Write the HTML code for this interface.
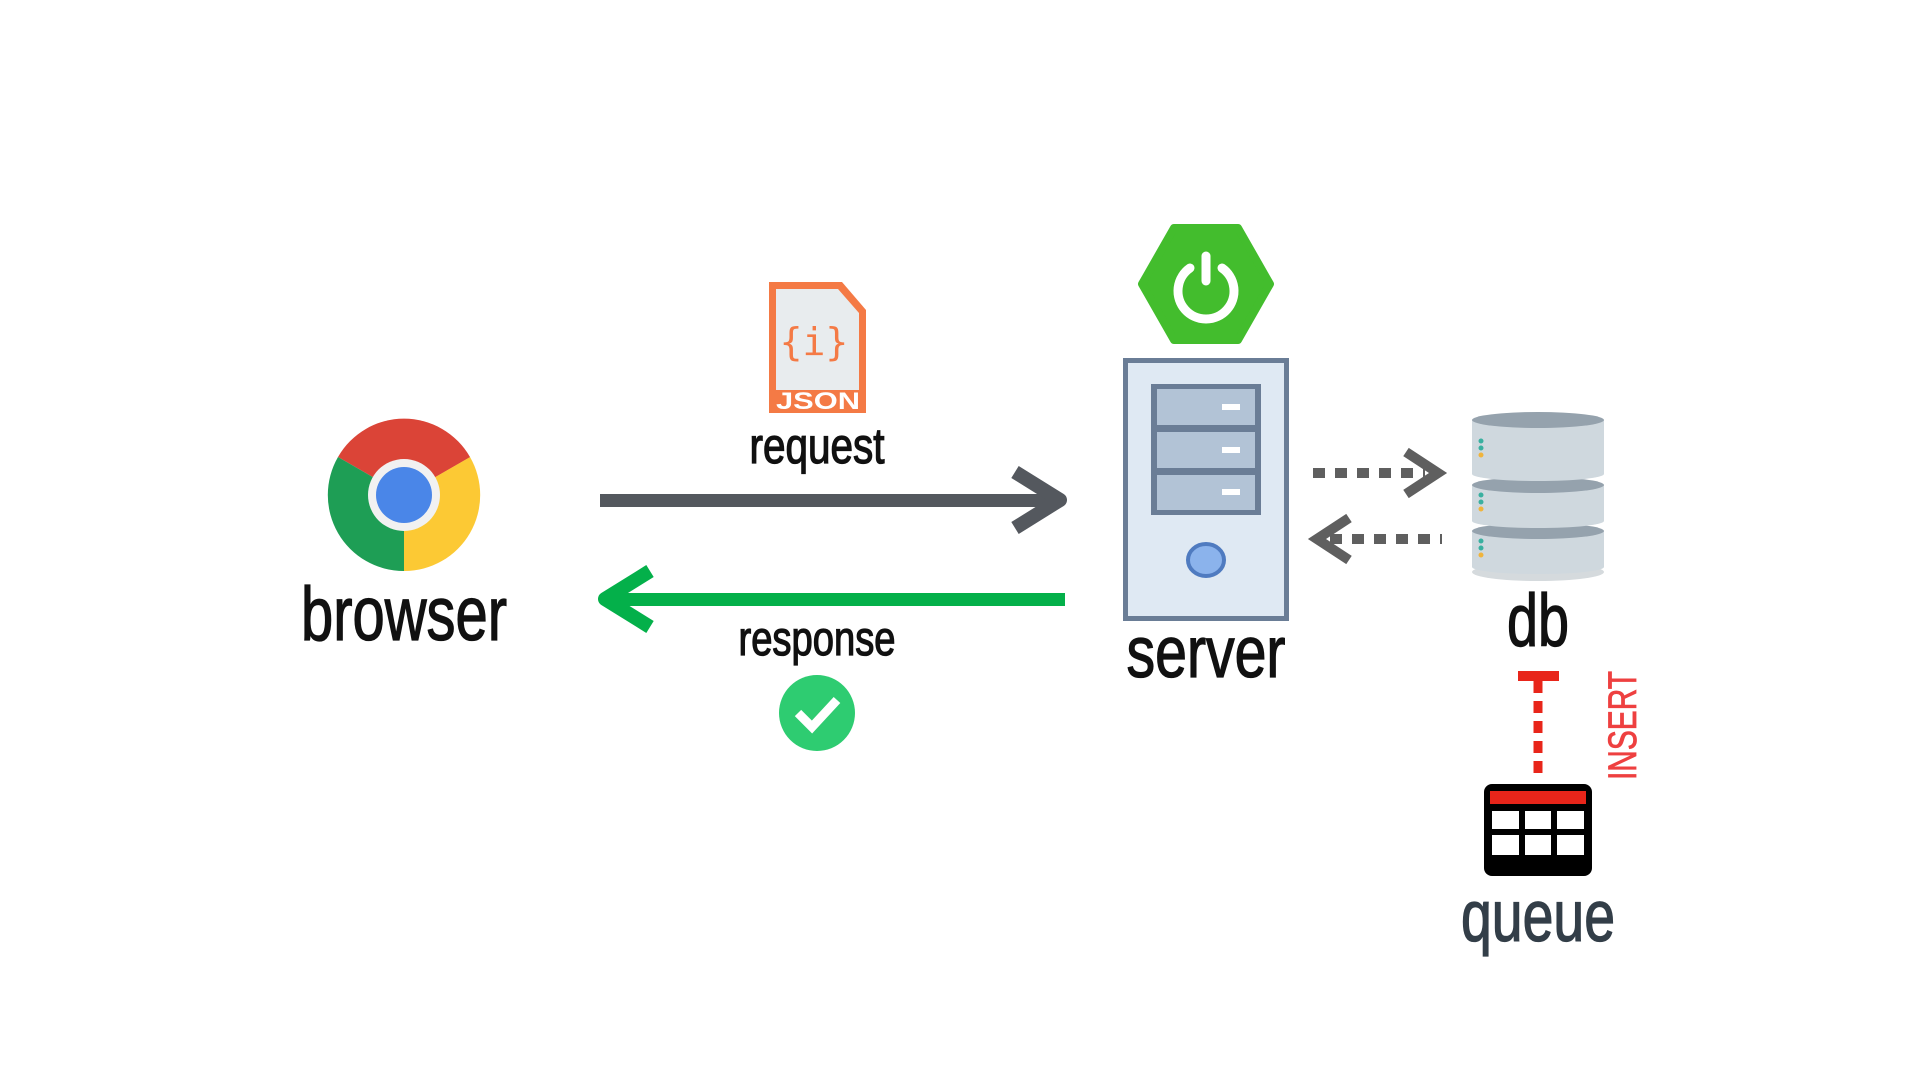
<!DOCTYPE html>
<html><head><meta charset="utf-8"><style>html,body{margin:0;padding:0;background:#fff}svg{display:block}</style></head>
<body>
<svg width="1920" height="1080" viewBox="0 0 1920 1080" xmlns="http://www.w3.org/2000/svg" font-family="Liberation Sans, DejaVu Sans, sans-serif">
<rect width="1920" height="1080" fill="#fff"/>
<!-- Chrome -->
<g transform="translate(404,495)">
<path d="M0,0 L-66,-38 A76,76 0 0 1 66,-38 Z" fill="#db4437"/>
<path d="M0,0 L66,-38 A76,76 0 0 1 0,76 Z" fill="#fcc934"/>
<path d="M0,0 L0,76 A76,76 0 0 1 -66,-38 Z" fill="#1e9e55"/>
<path d="M0,-38 L66,-38 L0,0 Z" fill="#db4437"/>
<path d="M33,19 L0,76 L0,0Z" fill="#fcc934"/>
<circle r="36" fill="#f1f1f1"/><circle r="28" fill="#4a86e8"/>
</g>
<g stroke="#111" stroke-width="1.3">
<text x="404" y="640" font-size="76" text-anchor="middle" textLength="206" lengthAdjust="spacingAndGlyphs" fill="#111">browser</text>
<text x="817" y="463" font-size="50" text-anchor="middle" textLength="135" lengthAdjust="spacingAndGlyphs" fill="#111">request</text>
<text x="817" y="655" font-size="48" text-anchor="middle" textLength="157" lengthAdjust="spacingAndGlyphs" fill="#111">response</text>
<text x="1206" y="677" font-size="72" text-anchor="middle" textLength="159" lengthAdjust="spacingAndGlyphs" fill="#111">server</text>
<text x="1538" y="646" font-size="74" text-anchor="middle" textLength="62" lengthAdjust="spacingAndGlyphs" fill="#111">db</text>
</g>
<!-- request arrow -->
<rect x="600" y="494" width="460" height="13" fill="#54585e"/>
<path d="M1015,472 L1060,500 L1015,528" fill="none" stroke="#54585e" stroke-width="14" stroke-linejoin="round"/>
<!-- response arrow -->
<rect x="605" y="593" width="460" height="13" fill="#04b04a"/>
<path d="M650,571 L605,599 L650,627" fill="none" stroke="#04b04a" stroke-width="14" stroke-linejoin="round"/>
<!-- JSON -->
<path d="M769,282 H842 L866,310 V413 H769 Z" fill="#f47a45"/>
<path d="M776,289 H838 L859,313 V390 H776 Z" fill="#e8ecee"/>
<text x="814" y="355" font-size="38" text-anchor="middle" fill="#f47a45" font-family="DejaVu Sans Mono, monospace">{i}</text>
<text x="818" y="409" font-size="24" font-weight="bold" text-anchor="middle" fill="#fff" textLength="84" lengthAdjust="spacingAndGlyphs">JSON</text>
<circle cx="817" cy="713" r="38" fill="#2ecc71"/>
<path d="M798,713 L812,727 L837,700" fill="none" stroke="#fff" stroke-width="9"/>
<!-- Spring -->
<polygon points="1174,228 1238,228 1270,284 1238,340 1174,340 1142,284" fill="#43bd2d" stroke="#43bd2d" stroke-width="8" stroke-linejoin="round"/>
<path d="M1190,268 A28,28 0 1 0 1222,268" fill="none" stroke="#fff" stroke-width="9" stroke-linecap="round"/>
<line x1="1206" y1="256" x2="1206" y2="281" stroke="#fff" stroke-width="9" stroke-linecap="round"/>
<!-- server -->
<rect x="1125.5" y="360.5" width="161" height="258" fill="#dfe9f3" stroke="#6a7d96" stroke-width="5"/>
<rect x="1151" y="384" width="110" height="131" fill="#6a7d96"/>
<rect x="1157" y="389" width="98" height="36" fill="#b2c3d6"/>
<rect x="1157" y="432" width="98" height="36" fill="#b2c3d6"/>
<rect x="1157" y="475" width="98" height="35" fill="#b2c3d6"/>
<rect x="1222" y="404" width="18" height="6" fill="#fff"/>
<rect x="1222" y="447" width="18" height="6" fill="#fff"/>
<rect x="1222" y="489" width="18" height="6" fill="#fff"/>
<ellipse cx="1206" cy="560" rx="18" ry="16" fill="#8bb3ec" stroke="#4f7bc0" stroke-width="4"/>
<!-- dotted arrows -->
<line x1="1313" y1="473" x2="1425" y2="473" stroke="#5f5f5f" stroke-width="10" stroke-dasharray="12,10"/>
<path d="M1406,452 L1438,473 L1406,494" fill="none" stroke="#5f5f5f" stroke-width="10"/>
<line x1="1330" y1="539" x2="1442" y2="539" stroke="#5f5f5f" stroke-width="10" stroke-dasharray="12,10"/>
<path d="M1349,518 L1317,539 L1349,560" fill="none" stroke="#5f5f5f" stroke-width="10"/>
<!-- db -->
<ellipse cx="1538" cy="572" rx="66" ry="9" fill="#d5dadd"/>
<g>
<rect x="1472" y="531" width="132" height="36" fill="#cfd8de"/><ellipse cx="1538" cy="567" rx="66" ry="7" fill="#cfd8de"/><ellipse cx="1538" cy="531" rx="66" ry="8" fill="#95a2ad"/>
<rect x="1472" y="485" width="132" height="36" fill="#cfd8de"/><ellipse cx="1538" cy="521" rx="66" ry="7" fill="#cfd8de"/><ellipse cx="1538" cy="485" rx="66" ry="8" fill="#95a2ad"/>
<rect x="1472" y="420" width="132" height="54" fill="#cfd8de"/><ellipse cx="1538" cy="474" rx="66" ry="7" fill="#cfd8de"/><ellipse cx="1538" cy="420" rx="66" ry="8" fill="#95a2ad"/>
<circle cx="1481" cy="441" r="2.5" fill="#3ab0a0"/><circle cx="1481" cy="448" r="2.5" fill="#3ab0a0"/><circle cx="1481" cy="455" r="2.5" fill="#f0b43c"/>
<circle cx="1481" cy="495" r="2.5" fill="#3ab0a0"/><circle cx="1481" cy="502" r="2.5" fill="#3ab0a0"/><circle cx="1481" cy="509" r="2.5" fill="#f0b43c"/>
<circle cx="1481" cy="541" r="2.5" fill="#3ab0a0"/><circle cx="1481" cy="548" r="2.5" fill="#3ab0a0"/><circle cx="1481" cy="555" r="2.5" fill="#f0b43c"/>
</g>
<!-- INSERT -->
<rect x="1518" y="671" width="41" height="10" fill="#e8251a"/>
<line x1="1538" y1="681" x2="1538" y2="778" stroke="#e8251a" stroke-width="9" stroke-dasharray="12,8"/>
<text transform="translate(1636,780) rotate(-90)" font-size="40" textLength="109" lengthAdjust="spacingAndGlyphs" fill="#ee4040" stroke="#ee4040" stroke-width="0.8">INSERT</text>
<!-- queue -->
<rect x="1484" y="784" width="108" height="92" rx="8" fill="#000"/>
<rect x="1490" y="791" width="96" height="13" fill="#e8251a"/>
<g fill="#fff">
<rect x="1492" y="811" width="27" height="18"/><rect x="1525" y="811" width="26" height="18"/><rect x="1557" y="811" width="27" height="18"/>
<rect x="1492" y="835" width="27" height="20"/><rect x="1525" y="835" width="26" height="20"/><rect x="1557" y="835" width="27" height="20"/>
</g>
<text x="1538" y="941" font-size="72" text-anchor="middle" textLength="154" lengthAdjust="spacingAndGlyphs" fill="#333e48" stroke="#333e48" stroke-width="1.3">queue</text>
</svg>
</body></html>
